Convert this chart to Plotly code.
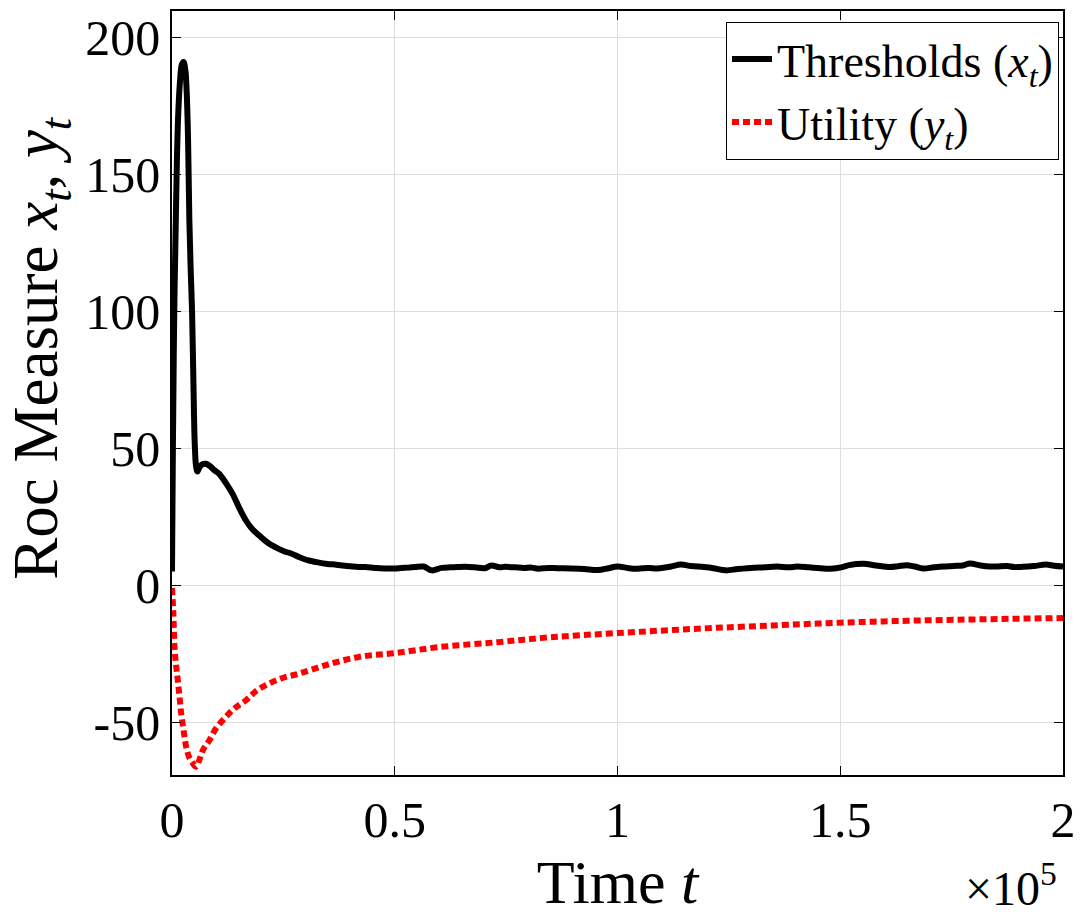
import plotly.graph_objects as go

# ---- data (time t in raw units; x-axis labelled in units of 1e5) ----
thr_t = [0, 200, 400, 600, 850, 1100, 1400, 1800, 2200, 2600, 3000, 3300, 3600, 3900, 4200,
         4500, 4800, 5100, 5400, 5700, 6100, 6700, 7600, 8500, 9500, 10600, 12000, 13600,
         15000, 16600, 18000, 19600, 21500, 23300, 25000, 27000, 28500, 30700, 32500, 34500,
         36000, 38200, 40000, 41900, 43400, 45500, 47500, 50000, 51500, 53100, 54500, 56500,
         58300, 60500, 62500, 64000, 65800, 68000, 70200, 71700, 73500, 74700, 77000, 79000,
         80700, 82200, 84400, 86500, 89600, 92500, 95600, 98000, 100000, 102500, 104500,
         107000, 109000, 112000, 114200, 116500, 119400, 121500, 124300, 127000, 130600,
         133000, 135800, 138500, 140300, 143000, 145500, 147800, 150500, 152000, 155200,
         158000, 161200, 163000, 164900, 166700, 168600, 171000, 173100, 175500, 177500,
         179100, 181500, 183500, 185000, 187500, 189000, 191000, 193500, 196200, 198000, 200000]
thr_x = [5, 50, 85, 110, 133, 155, 172, 184, 190, 191, 188, 180, 163, 133, 115,
         100, 75, 52, 43.5, 41.5, 42.8, 44.0, 44.3, 43.5, 42.0, 40.6, 37.5, 33.3,
         28.5, 23.6, 20.5, 18.1, 15.5, 13.8, 12.5, 11.4, 10.3, 9.0, 8.4, 7.8,
         7.6, 7.2, 6.9, 6.6, 6.6, 6.3, 6.1, 6.1, 6.3, 6.4, 6.6, 6.8,
         5.4, 6.3, 6.5, 6.6, 6.7, 6.5, 6.2, 7.2, 6.5, 6.7, 6.5, 6.3,
         6.4, 6.0, 6.3, 6.2, 6.1, 5.9, 5.5, 6.2, 6.8, 6.2, 6.0,
         6.3, 6.1, 6.8, 7.5, 7.0, 6.6, 6.2, 5.4, 5.9, 6.4,
         6.5, 6.8, 6.5, 6.8, 6.5, 6.2, 6.0, 6.6, 7.3, 7.8,
         7.2, 6.6, 6.9, 7.3, 6.8, 6.1, 6.5, 6.8, 7.0, 7.2,
         7.9, 7.2, 6.8, 6.8, 7.0, 6.6, 6.7, 7.0, 7.5, 7.1, 6.8]

util_t = [0, 300, 560, 900, 1300, 1700, 2060, 2600, 3180, 3900, 4650, 5400, 6200, 7000,
          8400, 10000, 12100, 14000, 16600, 19000, 21800, 25000, 28500, 34500, 41900,
          50000, 60000, 73200, 85000, 100000, 118000, 135000, 150000, 165000, 180000, 200000]
util_y = [-1, -10, -22.6, -29, -34.7, -41, -46.8, -53, -59, -63, -65, -66.3, -63.5, -60,
          -56.6, -52, -48.1, -45, -42, -38.5, -35.9, -33.8, -32.3, -29.2, -26.2,
          -24.8, -22.6, -20.8, -19, -17.5, -15.9, -14.7, -13.7, -13.0, -12.5, -12.0]

x_tickvals = [0, 50000, 100000, 150000, 200000]
x_ticktext = ["0", "0.5", "1", "1.5", "2"]
y_tickvals = [-50, 0, 50, 100, 150, 200]
y_ticktext = ["-50", "0", "50", "100", "150", "200"]

FONT = "Liberation Serif"

fig = go.Figure()
fig.add_trace(go.Scatter(
    x=thr_t, y=thr_x, mode="lines", name="Thresholds (<i>x<sub>t</sub></i>)",
    line=dict(color="black", width=6), line_shape="spline"))
fig.add_trace(go.Scatter(
    x=util_t, y=util_y, mode="lines", name="Utility (<i>y<sub>t</sub></i>)",
    line=dict(color="#ff0000", width=6, dash="7px,4px"), line_shape="spline"))

axis_common = dict(
    showline=True, linecolor="black", linewidth=1.5, mirror="allticks",
    ticks="inside", ticklen=9, tickwidth=1.2, tickcolor="black",
    showgrid=True, gridcolor="#dedede", gridwidth=1, zeroline=False,
    tickfont=dict(family=FONT, size=50, color="black"),
)

fig.update_layout(
    width=1085, height=922,
    margin=dict(l=172, r=18, t=9, b=147),
    paper_bgcolor="white", plot_bgcolor="white",
    font=dict(family=FONT, color="black"),
    showlegend=True,
    legend=dict(
        x=0.9955, y=0.986, xanchor="right", yanchor="top",
        bgcolor="white", bordercolor="black", borderwidth=1,
        font=dict(family=FONT, size=46, color="black"),
        tracegroupgap=0, itemwidth=40,
    ),
    xaxis=dict(
        range=[0, 200000], tickvals=x_tickvals, ticktext=x_ticktext,
        title=dict(text="Time <i>t</i>", font=dict(family=FONT, size=62, color="black"),
                   standoff=10),
        **axis_common,
    ),
    yaxis=dict(
        range=[-69.3, 209.6], tickvals=y_tickvals, ticktext=y_ticktext,
        **axis_common,
    ),
    annotations=[
        dict(text="×10<sup>5</sup>", xref="paper", yref="paper",
             x=0.995, y=-0.144, xanchor="right", yanchor="middle",
             showarrow=False, font=dict(family=FONT, size=48, color="black")),
        dict(text="Roc Measure <i>x<sub>t</sub></i>, <i>y<sub>t</sub></i>",
             xref="paper", yref="paper", x=-0.1475, y=0.5587,
             xanchor="center", yanchor="middle", textangle=-90,
             showarrow=False, font=dict(family=FONT, size=63, color="black")),
    ],
)

fig.write_html("out.html")
